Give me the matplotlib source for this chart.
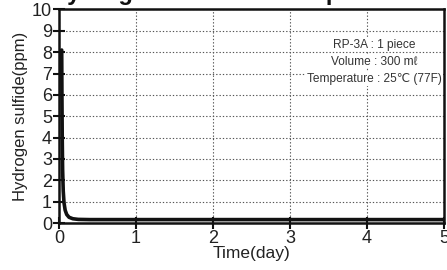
import matplotlib
matplotlib.use("Agg")
import matplotlib.pyplot as plt

plt.rcParams['font.family'] = ['Liberation Sans', 'DejaVu Sans']

# Данные
time_day = [0.035, 0.038, 0.042, 0.047, 0.055, 0.065, 0.08, 0.1, 0.13, 0.18, 0.25, 0.4, 1.0, 2.0, 3.0, 4.0, 5.0]
h2s_ppm = [8.1, 6.0, 4.0, 2.5, 1.5, 0.95, 0.6, 0.4, 0.27, 0.2, 0.17, 0.16, 0.16, 0.16, 0.16, 0.16, 0.16]
x_ticks = [0, 1, 2, 3, 4, 5]
y_ticks = list(range(0, 11))
note_lines = ["RP-3A : 1 piece", "Volume : 300 mℓ", "Temperature : 25℃ (77F)"]

fig = plt.figure(figsize=(4.47, 2.70), dpi=100)
ax = fig.add_axes([0.132, 0.174, 0.861, 0.791])
ax.set_facecolor('white')

ax.plot(time_day, h2s_ppm, color='#111111', lw=2.6, solid_capstyle='round', zorder=3)

ax.set_xlim(0, 5)
ax.set_ylim(0, 10)
ax.set_xticks(x_ticks)
ax.set_yticks(y_ticks)
ax.grid(True, color='#555555', linestyle=(0, (1.2, 1.8)), lw=0.8)

for s in ax.spines.values():
    s.set_linewidth(1.8)
    s.set_color('#111111')

ax.tick_params(axis='both', direction='inout', length=8, width=1.5,
               labelsize=13, color='#111111', labelcolor='#222222')
ax.tick_params(axis='x', pad=1)
ax.tick_params(axis='y', pad=1)

ax.set_xlabel("Time(day)", fontsize=12.5, labelpad=-1, color='#222222')
ax.set_ylabel("Hydrogen sulfide(ppm)", fontsize=12, labelpad=3, color='#222222')

# Подпись с условиями опыта
for i, line in enumerate(note_lines):
    ax.text(0.82, 0.835 - i * 0.08, line, transform=ax.transAxes, ha='center', va='center',
            fontsize=8.6, color='#333333', zorder=4,
            bbox=dict(facecolor='white', edgecolor='none', pad=0.5))

# Заголовок срезан сверху
fig.text(0.112, 1.0, "Hydrogen sulfide decomposition", fontsize=17, fontweight='bold',
         ha='left', va='baseline', color='#111111')

fig.savefig("out.png", dpi=100)
